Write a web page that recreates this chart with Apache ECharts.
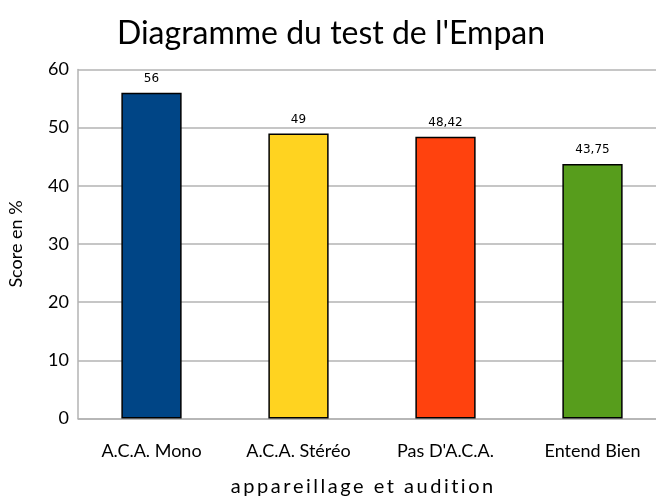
<!DOCTYPE html>
<html>
<head>
<meta charset="utf-8">
<script src="https://cdn.jsdelivr.net/npm/echarts@6/dist/echarts.min.js"></script>
<style>
  html, body { margin: 0; padding: 0; background: #fff; }
  #chart { width: 656px; height: 498px; }
</style>
</head>
<body>
<div id="chart"></div>
<script>
var categories = ["A.C.A. Mono", "A.C.A. Stéréo", "Pas D'A.C.A.", "Entend Bien"];
var scores = [56, 49, 48.42, 43.75];
var barColors = ["#004586", "#ffd320", "#ff420e", "#579d1c"];
var yTicks = [0, 10, 20, 30, 40, 50, 60];

// spread the letters of the x axis title a little, as in the original
function spaced(s) {
  return s.split("").join("\u2009");
}

var myChart = echarts.init(document.getElementById("chart"), null, { renderer: "canvas" });

var option = {
  animation: false,
  title: {
    text: "Diagramme du test de l'Empan",
    left: 326,
    top: 13,
    textAlign: "center",
    textStyle: {
      fontFamily: "Lato",
      fontSize: 32,
      fontWeight: "normal",
      color: "#000"
    }
  },
  grid: {
    top: 69.5,
    left: 78,
    right: -10,
    bottom: 79.5,
    containLabel: false,
    outerBoundsMode: "none"
  },
  xAxis: {
    type: "category",
    data: categories,
    name: spaced("appareillage et audition"),
    nameLocation: "middle",
    nameGap: 58,
    nameTextStyle: {
      fontFamily: "Lato",
      fontSize: 20,
      color: "#000",
      padding: [0, 20, 0, 0]
    },
    axisTick: { show: false },
    axisLine: { show: true, lineStyle: { color: "#b3b3b3", width: 1.5 } },
    axisLabel: {
      margin: 24,
      fontFamily: "Lato",
      fontSize: 18,
      color: "#000"
    }
  },
  yAxis: {
    type: "value",
    min: yTicks[0],
    max: yTicks[yTicks.length - 1],
    interval: 10,
    name: "Score en %",
    nameLocation: "middle",
    nameGap: 53,
    nameRotate: 90,
    nameTextStyle: {
      fontFamily: "Lato",
      fontSize: 18,
      color: "#000"
    },
    axisLine: { show: true, lineStyle: { color: "#b3b3b3", width: 1.5 } },
    axisTick: { show: false },
    splitLine: { show: true, lineStyle: { color: "#b3b3b3", width: 1.5 } },
    axisLabel: {
      margin: 9,
      fontFamily: "Lato",
      fontSize: 18,
      color: "#000"
    }
  },
  series: [
    {
      type: "bar",
      barWidth: "41%",
      data: scores.map(function (v, i) {
        return {
          value: v,
          itemStyle: { color: barColors[i], borderColor: "#000", borderWidth: 1.5 }
        };
      }),
      label: {
        show: true,
        position: "top",
        distance: 8,
        fontFamily: "DejaVu Sans",
        fontSize: 12,
        color: "#000",
        formatter: function (p) {
          return String(p.value).replace(".", ",");
        }
      }
    }
  ]
};

myChart.setOption(option);
</script>
</body>
</html>
